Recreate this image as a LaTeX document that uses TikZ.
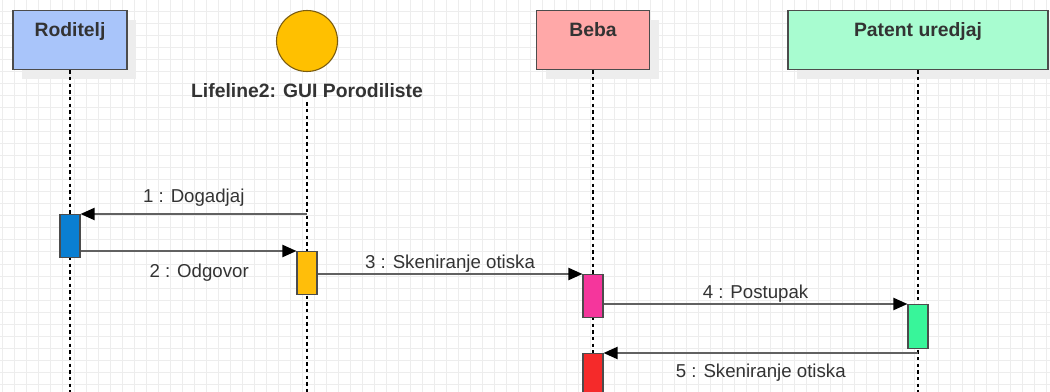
\documentclass[tikz,border=0pt]{standalone}
\usepackage{fontspec}
\setmainfont{Liberation Sans}
\usetikzlibrary{arrows.meta}
\usetikzlibrary{positioning}
\usetikzlibrary{shadows}

\definecolor{rodfill}{HTML}{A9C5FA}
\definecolor{bebafill}{HTML}{FFA8A8}
\definecolor{patentfill}{HTML}{A8FCD0}
\definecolor{guifill}{HTML}{FFC000}
\definecolor{guiborder}{HTML}{7A5C10}
\definecolor{actblue}{HTML}{0A7FD2}
\definecolor{actorange}{HTML}{FFBE0A}
\definecolor{actpink}{HTML}{F5369C}
\definecolor{actgreen}{HTML}{38F59A}
\definecolor{actred}{HTML}{F52A2A}
\definecolor{textgray}{HTML}{333333}

\begin{document}
\begin{tikzpicture}[x=0.75pt, y=-0.75pt,
    >={Triangle[length=10.5pt, width=9pt, color=black]},
    actor/.style={draw=black!70, line width=1pt, anchor=north,
      minimum height=44.25pt, inner ysep=0pt,
      text height=19.5pt, text depth=24.75pt,
      font=\bfseries\fontsize{14.5}{16}\selectfont, text=textgray,
      drop shadow={shadow xshift=7pt, shadow yshift=-7pt,
        fill=black!7, opacity=1}},
    lifeline/.style={dash pattern=on 2.5pt off 2.5pt, line width=0.9pt},
    activation/.style={draw=black!70, line width=0.8pt, anchor=north,
      minimum width=15pt, minimum height=32.5pt, inner sep=0pt},
    msg/.style={->, draw=black!62, line width=1.5pt},
    msglabel/.style={font=\fontsize{14}{16}\selectfont, text=textgray},
    gridline/.style={black!7, line width=0.75pt}]

  % background and grid
  \useasboundingbox (0,0) rectangle (1050,392);
  \fill[white] (0,0) rectangle (1050,392);
  \foreach \gx in {2,14,...,1046}
    \draw[gridline] (\gx,0) -- (\gx,392);
  \foreach \gy in {0,12,...,384}
    \draw[gridline] (0,\gy) -- (1050,\gy);

  % heads of the lifelines
  \node[actor, fill=rodfill, minimum width=85.5pt] (roditelj) at (70,10)
       {Roditelj};
  \node[circle, draw=guiborder, fill=guifill, line width=0.8pt,
        minimum size=45.75pt, inner sep=0pt] (gui) at (307,41) {};
  \node[font=\bfseries\fontsize{14.5}{16}\selectfont, text=textgray,
        below=5pt of gui] (gui-label) {Lifeline2: GUI Porodiliste};
  \node[actor, fill=bebafill, minimum width=84.75pt] (beba) at (593,10)
       {Beba};
  \node[actor, fill=patentfill, minimum width=195pt] (patent) at (918,10)
       {Patent uredjaj};

  % lifelines
  \coordinate (rod-end) at (roditelj.south |- 0,392);
  \coordinate (gui-end) at (gui |- 0,392);
  \coordinate (beba-end) at (beba.south |- 0,392);
  \coordinate (patent-end) at (patent.south |- 0,392);
  \draw[lifeline] (roditelj.south) -- (rod-end);
  \draw[lifeline] (gui-label.south) -- (gui-end);
  \draw[lifeline] (beba.south) -- (beba-end);
  \draw[lifeline] (patent.south) -- (patent-end);

  % activations
  \node[activation, fill=actblue] (act1) at (roditelj.south |- 0,214) {};
  \node[activation, fill=actorange] (act2) at (gui |- 0,251) {};
  \node[activation, fill=actpink] (act3) at (beba.south |- 0,274) {};
  \node[activation, fill=actgreen, minimum height=33pt] (act4)
       at (patent.south |- 0,304) {};
  \node[activation, fill=actred, minimum height=36pt] (act5)
       at (beba.south |- 0,353) {};

  % messages
  \coordinate (m1-start) at (gui |- 0,214);
  \coordinate (m5-start) at (patent.south |- 0,353);
  \draw[msg] (m1-start) -- node[msglabel, above=2pt] {1 : Dogadjaj}
       (m1-start -| act1.east);
  \draw[msg] (act1.east |- act2.north) -- node[msglabel, below=6pt,
       xshift=8pt] {2 : Odgovor} (act2.north west);
  \draw[msg] (act2.east |- act3.north) -- node[msglabel, above=-3pt]
       {3 : Skeniranje otiska} (act3.north west);
  \draw[msg] (act3.east |- act4.north) -- node[msglabel, above=-3pt]
       {4 : Postupak} (act4.north west);
  \draw[msg] (m5-start) -- node[msglabel, below=4pt]
       {5 : Skeniranje otiska} (act5.north east);
\end{tikzpicture}
\end{document}
